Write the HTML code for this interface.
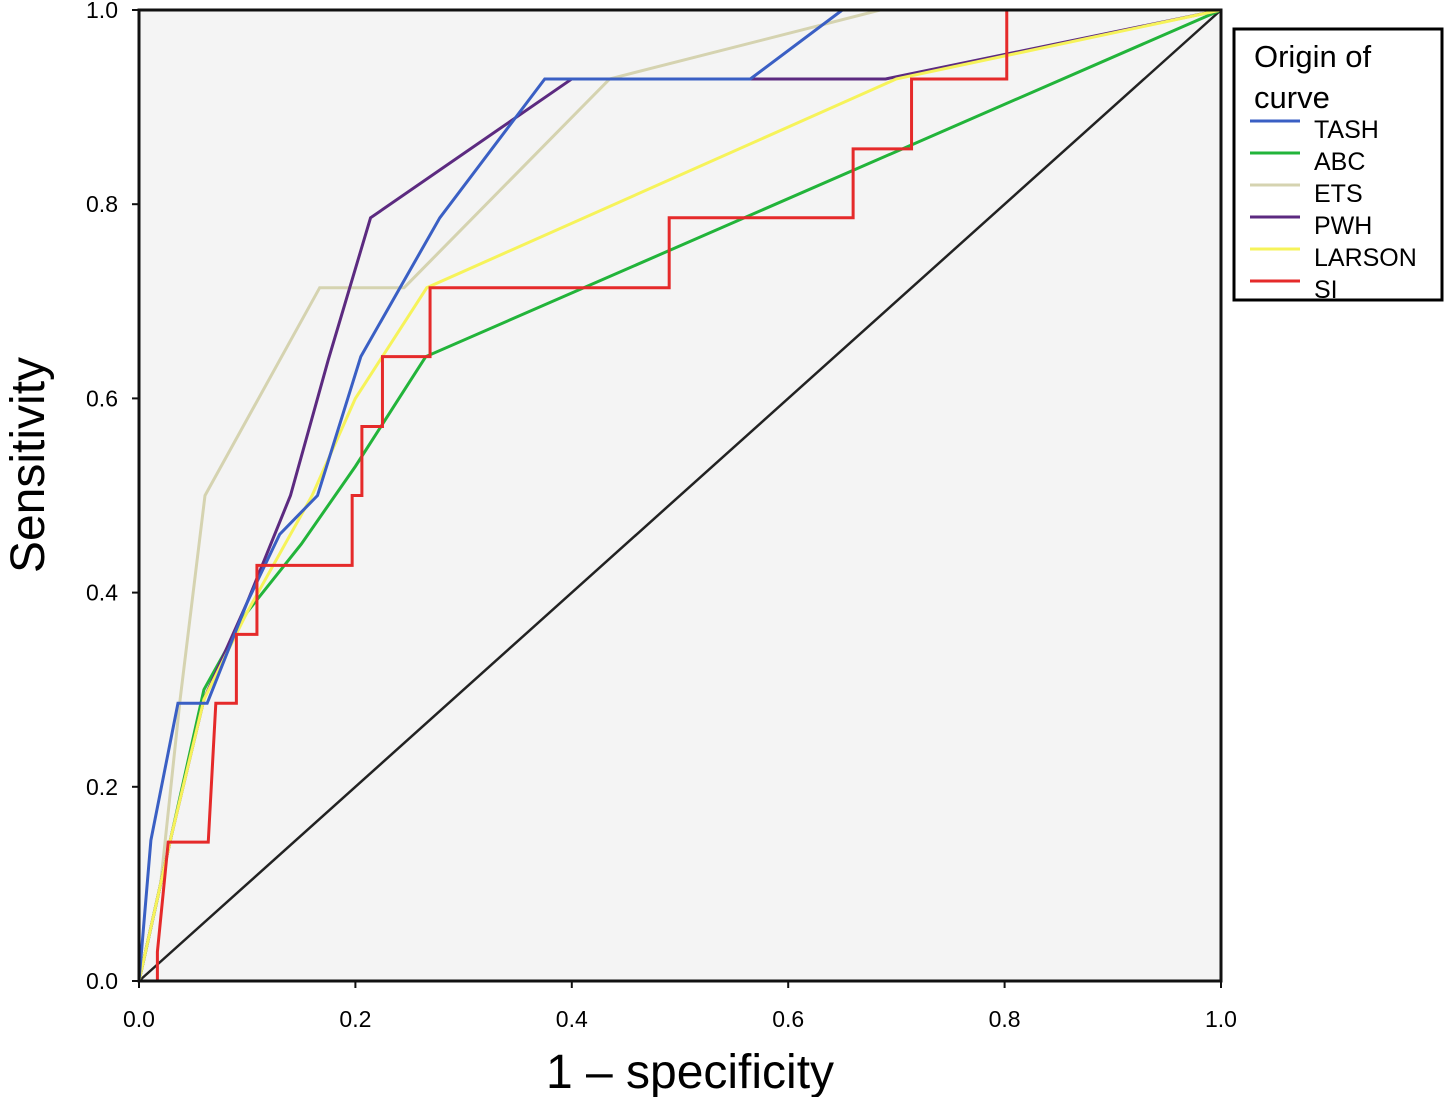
<!DOCTYPE html>
<html><head><meta charset="utf-8"><style>
body{margin:0;background:#fff;width:1445px;height:1097px;overflow:hidden;font-family:"Liberation Sans",sans-serif}
</style></head><body>
<svg id="chart" width="1445" height="1097" xmlns="http://www.w3.org/2000/svg" font-family="Liberation Sans, sans-serif">
<rect x="139" y="10" width="1082" height="971" fill="#f4f4f4"/>
<g id="series"></g>
<rect x="139" y="10" width="1082" height="971" fill="none" stroke="#111" stroke-width="3"/>
<g id="axes"></g>
<text x="690" y="1088" font-size="48" text-anchor="middle">1 – specificity</text>
<text transform="translate(44,465) rotate(-90)" font-size="48" text-anchor="middle">Sensitivity</text>
<g>
<rect x="1234" y="29" width="208" height="271" fill="#fff" stroke="#000" stroke-width="3"/>
<text x="1254" y="67" font-size="31">Origin of</text>
<text x="1254" y="108" font-size="31">curve</text>
<g id="legend-entries"></g>
</g>
</svg>
<script>
const ticks=[0,0.2,0.4,0.6,0.8,1.0];
const tickLabels=["0.0","0.2","0.4","0.6","0.8","1.0"];
const seriesNames=["TASH","ABC","ETS","PWH","LARSON","SI"];
const seriesColors=["#3a5fc4","#22b43a","#d5d3b0","#5c2a80","#f6f35a","#e52a2a"];
const tashX=[0,0.011,0.036,0.063,0.1,0.13,0.165,0.205,0.278,0.375,0.565,0.65,1];
const tashY=[0,0.145,0.286,0.286,0.39,0.46,0.5,0.643,0.786,0.929,0.929,1,1];
const abcX=[0,0.03,0.06,0.1,0.15,0.2,0.265,1];
const abcY=[0,0.15,0.3,0.38,0.45,0.53,0.643,1];
const etsX=[0,0.02,0.038,0.061,0.167,0.245,0.435,0.685,1];
const etsY=[0,0.1,0.29,0.5,0.714,0.714,0.929,1,1];
const pwhX=[0,0.03,0.06,0.1,0.14,0.175,0.214,0.4,0.69,1];
const pwhY=[0,0.15,0.29,0.39,0.5,0.64,0.786,0.929,0.929,1];
const larX=[0,0.03,0.06,0.1,0.16,0.2,0.266,0.7,1];
const larY=[0,0.15,0.29,0.38,0.5,0.6,0.714,0.929,1];
const siX=[0.017,0.017,0.027,0.064,0.071,0.072,0.09,0.09,0.109,0.109,0.197,0.197,0.206,0.206,0.225,0.225,0.269,0.269,0.49,0.49,0.66,0.66,0.714,0.714,0.802,0.802,1];
const siY=[0,0.03,0.143,0.143,0.286,0.286,0.286,0.357,0.357,0.428,0.428,0.5,0.5,0.571,0.571,0.643,0.643,0.714,0.714,0.786,0.786,0.857,0.857,0.929,0.929,1,1];
const refX=[0,1], refY=[0,1];
const xs=v=>139+v*1082, ys=v=>981-v*971;
const NS="http://www.w3.org/2000/svg";
const series=document.getElementById('series');
function line(xa,ya,color,name,w){
 const p=document.createElementNS(NS,'polyline');
 p.setAttribute('points',xa.map((x,i)=>xs(x)+','+ys(ya[i])).join(' '));
 p.setAttribute('fill','none');p.setAttribute('stroke',color);p.setAttribute('stroke-width',w);
 
 
 series.appendChild(p);
}
line(refX,refY,"#222","reference-diagonal",2.5);
const data=[[tashX,tashY],[abcX,abcY],[etsX,etsY],[pwhX,pwhY],[larX,larY],[siX,siY]];
const order=[2,1,3,4,0,5];
order.forEach(i=>line(data[i][0],data[i][1],seriesColors[i],'curve-'+seriesNames[i].toLowerCase(),3));
const axes=document.getElementById('axes');
ticks.forEach((t,i)=>{
 let l=document.createElementNS(NS,'line');
 l.setAttribute('x1',132);l.setAttribute('x2',139);l.setAttribute('y1',ys(t));l.setAttribute('y2',ys(t));
 l.setAttribute('stroke','#111');l.setAttribute('stroke-width',2);
 
 
 axes.appendChild(l);
 let tx=document.createElementNS(NS,'text');
 tx.setAttribute('x',118);tx.setAttribute('y',ys(t)+8);tx.setAttribute('font-size',23);tx.setAttribute('text-anchor','end');
 tx.textContent=tickLabels[i];
 
 
 axes.appendChild(tx);
 let l2=document.createElementNS(NS,'line');
 l2.setAttribute('x1',xs(t));l2.setAttribute('x2',xs(t));l2.setAttribute('y1',981);l2.setAttribute('y2',988);
 l2.setAttribute('stroke','#111');l2.setAttribute('stroke-width',2);
 
 
 axes.appendChild(l2);
 let tx2=document.createElementNS(NS,'text');
 tx2.setAttribute('x',xs(t));tx2.setAttribute('y',1027);tx2.setAttribute('font-size',23);tx2.setAttribute('text-anchor','middle');
 tx2.textContent=tickLabels[i];
 
 
 axes.appendChild(tx2);
});
const le=document.getElementById('legend-entries');
seriesNames.forEach((n,i)=>{
 const y=121+i*32;
 let l=document.createElementNS(NS,'line');
 l.setAttribute('x1',1250);l.setAttribute('x2',1300);l.setAttribute('y1',y);l.setAttribute('y2',y);
 l.setAttribute('stroke',seriesColors[i]);l.setAttribute('stroke-width',3);
 
 
 le.appendChild(l);
 let t=document.createElementNS(NS,'text');
 t.setAttribute('x',1314);t.setAttribute('y',y+17);t.setAttribute('font-size',25);
 t.textContent=n;
 
 
 le.appendChild(t);
});
</script>
</body></html>
